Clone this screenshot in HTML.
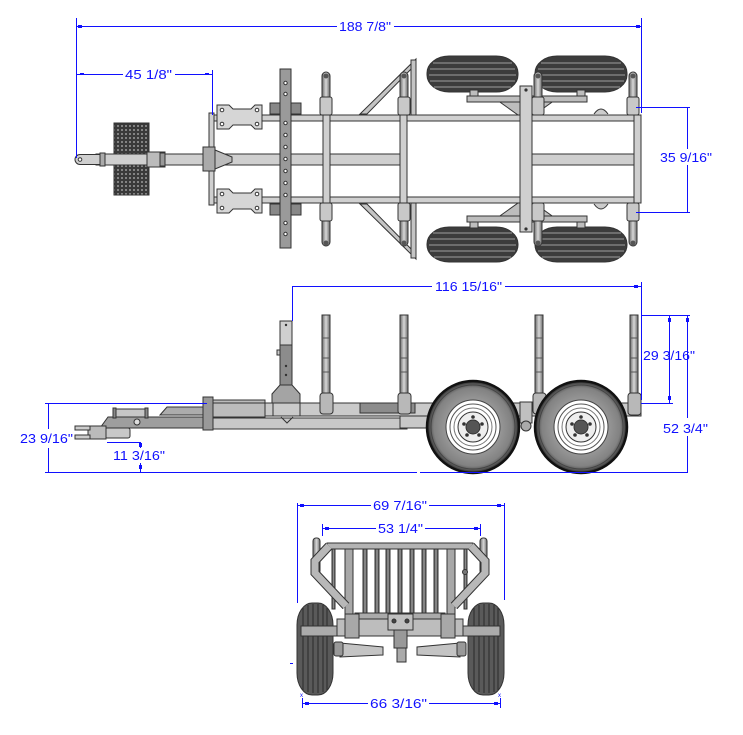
<!DOCTYPE html>
<html><head><meta charset="utf-8"><style>
html,body{margin:0;padding:0;background:#fff;}
svg{display:block;}
text{font-family:"Liberation Sans",sans-serif;font-size:13px;fill:#1010ff;}
</style></head><body>
<svg width="743" height="735" viewBox="0 0 743 735" xmlns="http://www.w3.org/2000/svg">
<defs>
<pattern id="mesh" width="4" height="4" patternUnits="userSpaceOnUse">
<rect width="4" height="4" fill="#3a3a3a"/><circle cx="2" cy="2" r="1" fill="#9a9a9a"/>
</pattern>
<linearGradient id="tubeV" x1="0" x2="1" y1="0" y2="0">
<stop offset="0" stop-color="#6a6a6a"/><stop offset="0.5" stop-color="#d8d8d8"/><stop offset="1" stop-color="#6a6a6a"/>
</linearGradient>
<linearGradient id="barV" x1="0" x2="1" y1="0" y2="0">
<stop offset="0" stop-color="#444"/><stop offset="0.5" stop-color="#999"/><stop offset="1" stop-color="#444"/>
</linearGradient>
<radialGradient id="tireG" cx="0.5" cy="0.5" r="0.5">
<stop offset="0.55" stop-color="#9a9a9a"/><stop offset="0.85" stop-color="#828282"/><stop offset="0.94" stop-color="#555"/><stop offset="1" stop-color="#1a1a1a"/>
</radialGradient>
</defs>

<!-- ================= TOP VIEW ================= -->
<g stroke="#333" stroke-width="1">
<g fill="#3c3c3c">
<rect x="427" y="56" width="91" height="36" rx="22" ry="17"/>
<rect x="535" y="56" width="92" height="36" rx="22" ry="17"/>
<rect x="427" y="227" width="91" height="35" rx="22" ry="17"/>
<rect x="535" y="227" width="92" height="35" rx="22" ry="17"/>
</g>
<g stroke="#8a8a8a" stroke-width="1.2">
<line x1="433" y1="63" x2="512" y2="63"/><line x1="430" y1="69" x2="515" y2="69"/><line x1="429" y1="75" x2="516" y2="75"/><line x1="430" y1="81" x2="515" y2="81"/><line x1="434" y1="87" x2="511" y2="87"/>
<line x1="541" y1="63" x2="621" y2="63"/><line x1="538" y1="69" x2="624" y2="69"/><line x1="537" y1="75" x2="625" y2="75"/><line x1="538" y1="81" x2="624" y2="81"/><line x1="542" y1="87" x2="620" y2="87"/>
<line x1="433" y1="233" x2="512" y2="233"/><line x1="430" y1="239" x2="515" y2="239"/><line x1="429" y1="245" x2="516" y2="245"/><line x1="430" y1="251" x2="515" y2="251"/><line x1="434" y1="257" x2="511" y2="257"/>
<line x1="541" y1="233" x2="621" y2="233"/><line x1="538" y1="239" x2="624" y2="239"/><line x1="537" y1="245" x2="625" y2="245"/><line x1="538" y1="251" x2="624" y2="251"/><line x1="542" y1="257" x2="620" y2="257"/>
</g>
<g fill="#bdbdbd">
<rect x="470" y="90" width="8" height="8"/><rect x="577" y="90" width="8" height="8"/>
<rect x="470" y="220" width="8" height="8"/><rect x="577" y="220" width="8" height="8"/>
<polygon points="497,100 555,100 534,115 518,115"/>
<polygon points="497,218 555,218 534,203 518,203"/>
<rect x="467" y="96" width="120" height="6"/>
<rect x="467" y="216" width="120" height="6"/>
</g>
<g fill="#c4c4c4">
<polygon points="360,114 367,114 416,64 416,59"/>
<rect x="411" y="60" width="5" height="55"/>
<polygon points="360,204 367,204 416,254 416,259"/>
<rect x="411" y="203" width="5" height="55"/>
</g>
<g fill="#cfcfcf">
<rect x="215" y="154" width="185" height="11"/>
<rect x="532" y="154" width="102" height="11"/>
</g>
<polygon points="215,150 232,157 232,162 215,169" fill="#bbb"/>
<rect x="212" y="115" width="429" height="6" fill="#d0d0d0"/>
<rect x="212" y="197" width="429" height="6" fill="#d0d0d0"/>
<g fill="#cfcfcf">
<rect x="323" y="115" width="7" height="88"/>
<rect x="400" y="115" width="7" height="88"/>
<rect x="634" y="115" width="7" height="88"/>
<rect x="520" y="86" width="12" height="146"/>
<rect x="209" y="113" width="5" height="92"/>
</g>
<circle cx="526" cy="90" r="1.6" fill="#333" stroke="none"/>
<circle cx="526" cy="229" r="1.6" fill="#333" stroke="none"/>
<path d="M594,114 Q601,104 608,114" fill="#ccc"/>
<path d="M594,204 Q601,214 608,204" fill="#ccc"/>
<g fill="url(#tubeV)">
<rect x="322" y="72" width="8" height="28" rx="4"/><rect x="400" y="72" width="8" height="28" rx="4"/>
<rect x="534" y="72" width="8" height="28" rx="4"/><rect x="629" y="72" width="8" height="28" rx="4"/>
<rect x="322" y="218" width="8" height="28" rx="4"/><rect x="400" y="218" width="8" height="28" rx="4"/>
<rect x="534" y="218" width="8" height="28" rx="4"/><rect x="629" y="218" width="8" height="28" rx="4"/>
</g>
<g fill="#c8c8c8">
<rect x="320" y="97" width="12" height="18" rx="2"/><rect x="398" y="97" width="12" height="18" rx="2"/>
<rect x="532" y="97" width="12" height="18" rx="2"/><rect x="627" y="97" width="12" height="18" rx="2"/>
<rect x="320" y="203" width="12" height="18" rx="2"/><rect x="398" y="203" width="12" height="18" rx="2"/>
<rect x="532" y="203" width="12" height="18" rx="2"/><rect x="627" y="203" width="12" height="18" rx="2"/>
</g>
<g fill="#555" stroke="none">
<circle cx="326" cy="76" r="2.5"/><circle cx="404" cy="76" r="2.5"/><circle cx="538" cy="76" r="2.5"/><circle cx="633" cy="76" r="2.5"/>
<circle cx="326" cy="243" r="2.5"/><circle cx="404" cy="243" r="2.5"/><circle cx="538" cy="243" r="2.5"/><circle cx="633" cy="243" r="2.5"/>
</g>
<rect x="270" y="103" width="31" height="11" fill="#888"/>
<rect x="270" y="204" width="31" height="11" fill="#888"/>
<g fill="#d6d6d6">
<path d="M217,105 h12 l4,4 h18 l4,-4 h7 v24 h-7 l-4,-4 h-18 l-4,4 h-12 z"/>
<path d="M217,189 h12 l4,4 h18 l4,-4 h7 v24 h-7 l-4,-4 h-18 l-4,4 h-12 z"/>
</g>
<g fill="#fff">
<circle cx="222" cy="110" r="1.8"/><circle cx="257" cy="110" r="1.8"/><circle cx="222" cy="124" r="1.8"/><circle cx="257" cy="124" r="1.8"/>
<circle cx="222" cy="194" r="1.8"/><circle cx="257" cy="194" r="1.8"/><circle cx="222" cy="208" r="1.8"/><circle cx="257" cy="208" r="1.8"/>
</g>
<rect x="280" y="69" width="11" height="179" fill="#9a9a9a"/>
<g fill="#fff">
<circle cx="285.5" cy="83" r="1.7"/><circle cx="285.5" cy="94" r="1.7"/><circle cx="285.5" cy="123" r="1.7"/><circle cx="285.5" cy="135" r="1.7"/>
<circle cx="285.5" cy="147" r="1.7"/><circle cx="285.5" cy="159" r="1.7"/><circle cx="285.5" cy="171" r="1.7"/><circle cx="285.5" cy="183" r="1.7"/>
<circle cx="285.5" cy="195" r="1.7"/><circle cx="285.5" cy="223" r="1.7"/><circle cx="285.5" cy="234" r="1.7"/>
</g>
<rect x="114" y="123" width="35" height="72" fill="url(#mesh)"/>
<rect x="96" y="154" width="112" height="11" fill="#cfcfcf"/>
<path d="M80,154.5 h20 v10 h-20 a5,5 0 0 1 0,-10 z" fill="#cfcfcf"/>
<circle cx="80" cy="159.5" r="1.8" fill="#fff"/>
<rect x="100" y="153" width="5" height="13" fill="#aaa"/>
<rect x="147" y="152" width="18" height="15" fill="#bbb"/>
<rect x="160" y="153" width="5" height="13" fill="#999"/>
<rect x="203" y="147" width="12" height="24" fill="#aaa"/>
</g>

<g stroke="#1010ff" stroke-width="1" fill="none">
<line x1="76.5" y1="18" x2="76.5" y2="158"/>
<line x1="641.5" y1="18" x2="641.5" y2="113"/>
<line x1="76" y1="26.5" x2="337" y2="26.5"/><line x1="394" y1="26.5" x2="641" y2="26.5"/>
<line x1="77" y1="74.5" x2="123" y2="74.5"/><line x1="175" y1="74.5" x2="212" y2="74.5"/>
<line x1="212.5" y1="70" x2="212.5" y2="115"/>
<line x1="636" y1="107.5" x2="690" y2="107.5"/><line x1="636" y1="212.5" x2="690" y2="212.5"/>
<line x1="687.5" y1="107" x2="687.5" y2="149"/><line x1="687.5" y1="165" x2="687.5" y2="212"/>
</g>
<g fill="#1010ff">
<rect x="78" y="25" width="4" height="3"/><rect x="636" y="25" width="4" height="3"/>
<rect x="80" y="73" width="4" height="2"/><rect x="205" y="73" width="4" height="2"/>
</g>
<text x="339" y="31" textLength="52" lengthAdjust="spacingAndGlyphs">188 7/8"</text>
<text x="125" y="79" textLength="47" lengthAdjust="spacingAndGlyphs">45 1/8"</text>
<text x="660" y="162" textLength="52" lengthAdjust="spacingAndGlyphs">35 9/16"</text>

<!-- ================= SIDE VIEW ================= -->
<g stroke="#333" stroke-width="1">
<rect x="213" y="418" width="194" height="11" fill="#c8c8c8"/>
<rect x="265" y="403" width="376" height="13" fill="#cacaca"/>
<rect x="213" y="400" width="52" height="17" fill="#bcbcbc"/>
<line x1="213" y1="403" x2="265" y2="403"/>
<rect x="360" y="403" width="55" height="10" fill="#8c8c8c"/>
<rect x="400" y="416" width="30" height="12" fill="#c8c8c8"/>
<polygon points="100,428 108,417 203,417 203,428" fill="#9e9e9e"/>
<polygon points="160,415 167,407 207,407 207,415" fill="#acacac"/>
<rect x="113" y="409" width="35" height="8" fill="#c6c6c6"/>
<rect x="113" y="408" width="3" height="10" fill="#888"/><rect x="145" y="408" width="3" height="10" fill="#888"/>
<circle cx="137" cy="422" r="3" fill="#ddd"/>
<rect x="105" y="428" width="25" height="10" fill="#c8c8c8" rx="2"/>
<rect x="88" y="426" width="18" height="13" fill="#bbb"/>
<rect x="75" y="426" width="15" height="4" fill="#ccc"/>
<rect x="75" y="435" width="15" height="4" fill="#ccc"/>
<rect x="203" y="397" width="10" height="33" fill="#999"/>
<rect x="280" y="321" width="12" height="64" fill="#8c8c8c"/>
<rect x="280" y="321" width="12" height="24" fill="#cfcfcf"/>
<rect x="277" y="350" width="3" height="5" fill="#ccc"/>
<polygon points="280,385 292,385 300,394 300,403 272,403 272,394" fill="#a4a4a4"/>
<rect x="273" y="403" width="27" height="13" fill="none"/>
<path d="M281,417 l6,6 l6,-6" fill="none"/>
<g fill="#333" stroke="none"><circle cx="286" cy="325" r="1.2"/><circle cx="286" cy="366" r="1.2"/><circle cx="286" cy="375" r="1.2"/></g>
<g fill="url(#tubeV)">
<rect x="322" y="315" width="8" height="80"/>
<rect x="400" y="315" width="8" height="80"/>
<rect x="535" y="315" width="8" height="80"/>
<rect x="630" y="315" width="8" height="80"/>
</g>
<g stroke="#555">
<line x1="322" y1="338" x2="330" y2="338"/><line x1="322" y1="358" x2="330" y2="358"/><line x1="322" y1="372" x2="330" y2="372"/>
<line x1="400" y1="338" x2="408" y2="338"/><line x1="400" y1="358" x2="408" y2="358"/><line x1="400" y1="372" x2="408" y2="372"/>
<line x1="535" y1="338" x2="543" y2="338"/><line x1="535" y1="358" x2="543" y2="358"/><line x1="535" y1="372" x2="543" y2="372"/>
<line x1="630" y1="338" x2="638" y2="338"/><line x1="630" y1="358" x2="638" y2="358"/><line x1="630" y1="372" x2="638" y2="372"/>
</g>
<g fill="#b8b8b8">
<rect x="320" y="393" width="13" height="21" rx="3"/>
<rect x="398" y="393" width="13" height="21" rx="3"/>
<rect x="533" y="393" width="13" height="21" rx="3"/>
<rect x="628" y="393" width="13" height="22" rx="3"/>
</g>
<rect x="520" y="402" width="12" height="21" fill="#c0c0c0"/>
<circle cx="526" cy="426" r="5" fill="#aaa"/>
<g>
<circle cx="473" cy="427" r="46" fill="url(#tireG)" stroke="#111" stroke-width="2.5"/>
<circle cx="473" cy="427" r="42" fill="none" stroke="#444"/>
<circle cx="473" cy="427" r="27" fill="#fff" stroke="#444"/>
<circle cx="473" cy="427" r="23" fill="none" stroke="#555"/>
<circle cx="473" cy="427" r="19" fill="none" stroke="#777"/>
<circle cx="473" cy="427" r="15" fill="#eee" stroke="#333"/>
<circle cx="473" cy="427" r="7" fill="#555"/>
<circle cx="581" cy="427" r="46" fill="url(#tireG)" stroke="#111" stroke-width="2.5"/>
<circle cx="581" cy="427" r="42" fill="none" stroke="#444"/>
<circle cx="581" cy="427" r="27" fill="#fff" stroke="#444"/>
<circle cx="581" cy="427" r="23" fill="none" stroke="#555"/>
<circle cx="581" cy="427" r="19" fill="none" stroke="#777"/>
<circle cx="581" cy="427" r="15" fill="#eee" stroke="#333"/>
<circle cx="581" cy="427" r="7" fill="#555"/>
</g>
<g fill="#333" stroke="none">
<circle cx="473" cy="417" r="1.8"/><circle cx="482" cy="424" r="1.8"/><circle cx="479" cy="435" r="1.8"/><circle cx="467" cy="435" r="1.8"/><circle cx="464" cy="424" r="1.8"/>
<circle cx="581" cy="417" r="1.8"/><circle cx="590" cy="424" r="1.8"/><circle cx="587" cy="435" r="1.8"/><circle cx="575" cy="435" r="1.8"/><circle cx="572" cy="424" r="1.8"/>
</g>
</g>

<g stroke="#1010ff" stroke-width="1" fill="none">
<line x1="45" y1="472.5" x2="417" y2="472.5"/><line x1="420" y1="472.5" x2="688" y2="472.5"/>
<line x1="45" y1="403.5" x2="207" y2="403.5"/>
<line x1="48.5" y1="403" x2="48.5" y2="429"/><line x1="48.5" y1="448" x2="48.5" y2="472"/>
<line x1="107" y1="442.5" x2="141" y2="442.5"/>
<line x1="140.5" y1="442" x2="140.5" y2="448"/><line x1="140.5" y1="463" x2="140.5" y2="472"/>
<line x1="292.5" y1="286" x2="292.5" y2="321"/>
<line x1="292" y1="286.5" x2="432" y2="286.5"/><line x1="505" y1="286.5" x2="641" y2="286.5"/>
<line x1="641.5" y1="282" x2="641.5" y2="400"/>
<line x1="641" y1="315.5" x2="690" y2="315.5"/><line x1="641" y1="403.5" x2="673" y2="403.5"/>
<line x1="669.5" y1="315" x2="669.5" y2="403"/>
<line x1="687.5" y1="315" x2="687.5" y2="418"/><line x1="687.5" y1="436" x2="687.5" y2="472"/>
</g>
<g fill="#1010ff">
<rect x="634" y="285" width="4" height="3"/>
<rect x="668" y="318" width="3" height="4"/><rect x="668" y="396" width="3" height="4"/>
<rect x="686" y="318" width="3" height="4"/>
<rect x="139" y="443" width="3" height="4"/><rect x="139" y="465" width="3" height="4"/>
</g>
<text x="435" y="291" textLength="67" lengthAdjust="spacingAndGlyphs">116 15/16"</text>
<text x="643" y="360" textLength="52" lengthAdjust="spacingAndGlyphs">29 3/16"</text>
<text x="663" y="433" textLength="45" lengthAdjust="spacingAndGlyphs">52 3/4"</text>
<text x="20" y="443" textLength="53" lengthAdjust="spacingAndGlyphs">23 9/16"</text>
<text x="113" y="460" textLength="52" lengthAdjust="spacingAndGlyphs">11 3/16"</text>

<!-- ================= FRONT VIEW ================= -->
<g stroke="#333" stroke-width="1">
<rect x="297" y="603" width="36" height="92" rx="15" ry="22" fill="#5a5a5a"/>
<rect x="468" y="603" width="36" height="92" rx="15" ry="22" fill="#5a5a5a"/>
<g stroke="#2a2a2a">
<line x1="303" y1="608" x2="303" y2="690"/><line x1="308" y1="605" x2="308" y2="692"/><line x1="313" y1="604" x2="313" y2="693"/><line x1="318" y1="604" x2="318" y2="693"/><line x1="323" y1="605" x2="323" y2="692"/><line x1="327" y1="608" x2="327" y2="690"/>
<line x1="474" y1="608" x2="474" y2="690"/><line x1="479" y1="605" x2="479" y2="692"/><line x1="484" y1="604" x2="484" y2="693"/><line x1="489" y1="604" x2="489" y2="693"/><line x1="494" y1="605" x2="494" y2="692"/><line x1="498" y1="608" x2="498" y2="690"/>
</g>
<rect x="313" y="538" width="7" height="36" rx="3" fill="url(#tubeV)"/>
<rect x="480" y="538" width="7" height="36" rx="3" fill="url(#tubeV)"/>
<g fill="url(#barV)">
<rect x="332" y="549" width="3" height="60"/>
<rect x="363" y="549" width="4" height="69"/><rect x="375" y="549" width="4" height="69"/><rect x="386" y="549" width="4" height="69"/>
<rect x="398" y="549" width="4" height="69"/><rect x="410" y="549" width="4" height="69"/><rect x="422" y="549" width="4" height="69"/>
<rect x="434" y="549" width="4" height="69"/><rect x="464" y="549" width="3" height="60"/>
</g>
<rect x="345" y="549" width="8" height="70" fill="#a8a8a8"/>
<rect x="447" y="549" width="8" height="70" fill="#a8a8a8"/>
<rect x="327" y="543" width="146" height="6" fill="#b4b4b4"/>
<circle cx="465" cy="572" r="2.5" fill="#777"/>
</g>
<g fill="none" stroke-linejoin="miter">
<polyline points="329,546 315,561 315,573 346,606" stroke="#333" stroke-width="9"/>
<polyline points="329,546 315,561 315,573 346,606" stroke="#b8b8b8" stroke-width="7"/>
<polyline points="471,546 485,561 485,573 454,606" stroke="#333" stroke-width="9"/>
<polyline points="471,546 485,561 485,573 454,606" stroke="#b8b8b8" stroke-width="7"/>
</g>
<g stroke="#333" stroke-width="1">
<rect x="355" y="613" width="90" height="6" fill="#aaa"/>
<rect x="301" y="626" width="199" height="10" fill="#ababab"/>
<rect x="337" y="619" width="126" height="17" fill="#bdbdbd"/>
<rect x="345" y="614" width="14" height="24" fill="#a8a8a8"/>
<rect x="441" y="614" width="14" height="24" fill="#a8a8a8"/>
<rect x="388" y="614" width="25" height="16" fill="#c0c0c0"/>
<circle cx="394" cy="621" r="2" fill="#444"/><circle cx="407" cy="621" r="2" fill="#444"/>
<rect x="394" y="630" width="13" height="18" fill="#999"/>
<rect x="397" y="648" width="9" height="14" fill="#aaa"/>
<polygon points="340,643 383,647 383,655 340,657" fill="#c4c4c4"/>
<polygon points="460,643 417,647 417,655 460,657" fill="#c4c4c4"/>
<rect x="334" y="642" width="9" height="14" rx="2" fill="#999"/>
<rect x="457" y="642" width="9" height="14" rx="2" fill="#999"/>
</g>

<g stroke="#1010ff" stroke-width="1" fill="none">
<line x1="297.5" y1="503" x2="297.5" y2="603"/><line x1="504.5" y1="503" x2="504.5" y2="600"/>
<line x1="297" y1="505.5" x2="371" y2="505.5"/><line x1="429" y1="505.5" x2="504" y2="505.5"/>
<line x1="322.5" y1="524" x2="322.5" y2="536"/><line x1="480.5" y1="524" x2="480.5" y2="536"/>
<line x1="322" y1="528.5" x2="376" y2="528.5"/><line x1="425" y1="528.5" x2="480" y2="528.5"/>
<line x1="302" y1="703.5" x2="368" y2="703.5"/><line x1="429" y1="703.5" x2="500" y2="703.5"/>
<line x1="302.5" y1="698" x2="302.5" y2="708"/><line x1="500.5" y1="698" x2="500.5" y2="708"/>
<line x1="290" y1="663.5" x2="293" y2="663.5"/>
</g>
<g fill="#1010ff">
<rect x="300" y="504" width="4" height="3"/><rect x="497" y="504" width="4" height="3"/>
<rect x="325" y="527" width="4" height="3"/><rect x="474" y="527" width="4" height="3"/>
<rect x="305" y="702" width="4" height="3"/><rect x="494" y="702" width="4" height="3"/>
</g>
<text x="300" y="697" style="font-size:6px">x</text><text x="498" y="697" style="font-size:6px">x</text>
<text x="373" y="510" textLength="54" lengthAdjust="spacingAndGlyphs">69 7/16"</text>
<text x="378" y="533" textLength="45" lengthAdjust="spacingAndGlyphs">53 1/4"</text>
<text x="370" y="708" textLength="57" lengthAdjust="spacingAndGlyphs">66 3/16"</text>
</svg>
</body></html>
